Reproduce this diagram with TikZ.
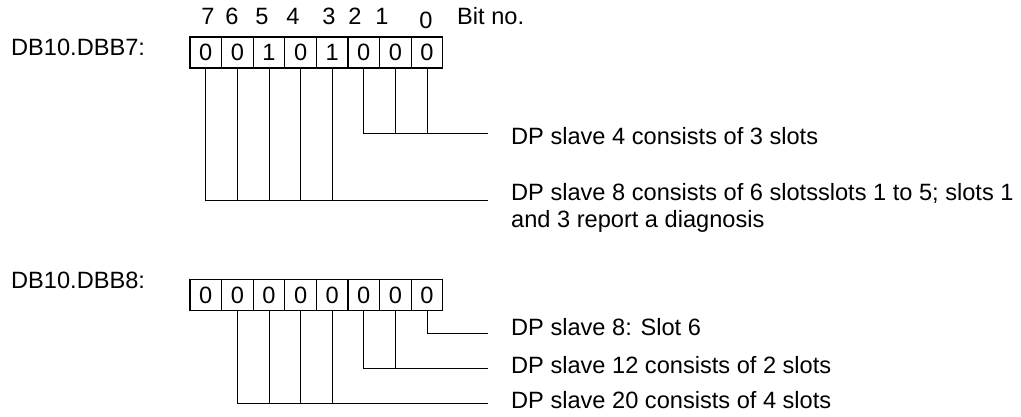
\documentclass[tikz,border=0pt]{standalone}
\usepackage{fontspec}
\setmainfont{Liberation Sans}
\begin{document}
\begin{tikzpicture}[x=1pt,y=-1pt,
  every node/.style={inner sep=0pt, font=\fontsize{23.6}{27}\selectfont},
  cell/.style={draw, line width=1.1pt, minimum width=31.6pt, minimum height=31pt, anchor=center},
  conn/.style={line width=0.8pt},
  txt/.style={anchor=base west, align=left},
  bitno/.style={anchor=base}]
\useasboundingbox (0,0) rectangle (1021,417);
% labels
\node[anchor=base west] (l7) at (11,56) {DB10.DBB7:};
\node[anchor=base west] (l8) at (11,288) {DB10.DBB8:};
% bit numbers
\node[bitno] (n7) at (208,25) {7};
\node[bitno] (n6) at (232,25) {6};
\node[bitno] (n5) at (262,25) {5};
\node[bitno] (n4) at (293,25) {4};
\node[bitno] (n3) at (329,25) {3};
\node[bitno] (n2) at (355,25) {2};
\node[bitno] (n1) at (382,25) {1};
\node[bitno] (n0) at (426,29) {0};
\node[anchor=base west] (bitno) at (457,25) {Bit no.};
% registers
\foreach \k/\va/\vb in {7/0/0,6/0/0,5/1/0,4/0/0,3/1/0,2/0/0,1/0/0,0/0/0}{
  \node[cell] (a\k) at ({190+31.6*(7-\k+0.5)},52.5) {\va};
  \node[cell] (b\k) at ({190+31.6*(7-\k+0.5)},295) {\vb};
}
% coordinates for line ends
\coordinate (t1) at (488,133);
\coordinate (t2) at (488,200);
\coordinate (u1) at (488,333);
\coordinate (u2) at (488,368);
\coordinate (u3) at (488,403);
% top connectors
\draw[conn] (a2.south) |- (t1);
\foreach \k in {1,0}{\draw[conn] (a\k.south) -- (a\k.south |- t1);}
\draw[conn] (a7.south) |- (t2);
\foreach \k in {6,5,4,3}{\draw[conn] (a\k.south) -- (a\k.south |- t2);}
% bottom connectors
\draw[conn] (b0.south) |- (u1);
\draw[conn] (b2.south) |- (u2);
\draw[conn] (b1.south) -- (b1.south |- u2);
\draw[conn] (b6.south) |- (u3);
\foreach \k in {5,4,3}{\draw[conn] (b\k.south) -- (b\k.south |- u3);}
% texts
\node[txt] (d1) at (511,145) {DP slave 4 consists of 3 slots};
\node[txt] (d2) at (511,227) {DP slave 8 consists of 6 slotsslots 1 to 5; slots 1\\and 3 report a diagnosis};
\node[txt] (d3) at (511,335) {DP slave 8: Slot 6};
\node[txt] (d4) at (511,373) {DP slave 12 consists of 2 slots};
\node[txt] (d5) at (511,408) {DP slave 20 consists of 4 slots};
\end{tikzpicture}
\end{document}
